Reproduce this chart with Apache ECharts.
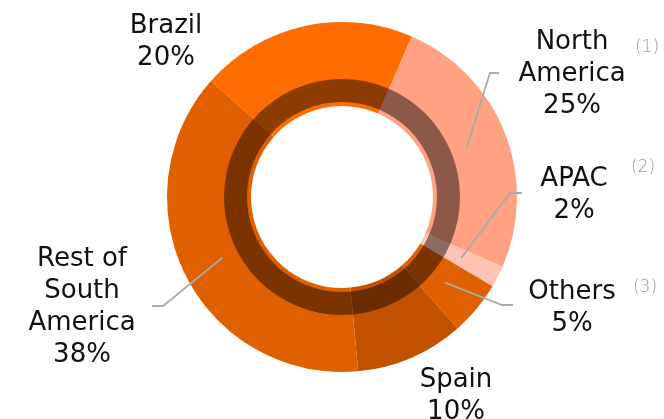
<!DOCTYPE html>
<html>
<head>
<meta charset="utf-8">
<script src="https://cdn.jsdelivr.net/npm/echarts@6/dist/echarts.min.js"></script>
<style>
  html, body { margin: 0; padding: 0; background: #fff; }
  #main { width: 664px; height: 419px; }
</style>
</head>
<body>
<div id="main"></div>
<script>
// data
const regions = ['Brazil', 'North America', 'APAC', 'Others', 'Spain', 'Rest of South America'];
const labelNames = ['Brazil', 'North\nAmerica', 'APAC', 'Others', 'Spain', 'Rest of\nSouth\nAmerica'];
const shares = [20, 25, 2, 5, 10, 38];
const colors = ['#FF6D00', '#FFA183', '#FFC3B3', '#E06000', '#C25100', '#E06000'];
const footnotes = ['', '(1)', '(2)', '(3)', '', ''];

// label placement (px): label centre, then the bend and end of the leader line
const labelPos = [
  { x: 166, y: 42 },
  { x: 572, y: 74, bend: [490, 73], end: [499, 73] },
  { x: 574, y: 195, bend: [510, 193], end: [522, 193] },
  { x: 572, y: 308, bend: [502, 305], end: [513, 305] },
  { x: 456, y: 396 },
  { x: 82, y: 307, bend: [163, 306], end: [152, 306] }
];
const notePos = [null, [647, 48], [643, 168], [645, 288], null, null];

const center = [342, 197];
const startAngle = 138.5;

const chart = echarts.init(document.getElementById('main'));

const pieData = regions.map((r, i) => ({
  name: r,
  value: shares[i],
  itemStyle: { color: colors[i] }
}));

const labelData = regions.map((r, i) => ({
  name: labelNames[i],
  value: shares[i],
  labelLine: { show: !!labelPos[i].bend }
}));

const notes = [];
footnotes.forEach((t, i) => {
  if (!t) return;
  notes.push({
    type: 'text',
    x: notePos[i][0],
    y: notePos[i][1],
    style: {
      text: t,
      fill: '#999999',
      fontFamily: 'DejaVu Sans',
      fontWeight: 300,
      fontSize: 17,
      align: 'center',
      verticalAlign: 'middle'
    }
  });
});

chart.setOption({
  backgroundColor: '#fff',
  animation: false,
  graphic: notes,
  series: [
    {
      type: 'pie',
      center: center,
      radius: [91, 175],
      startAngle: startAngle,
      silent: true,
      label: { show: false },
      labelLine: { show: false },
      itemStyle: { borderWidth: 0 },
      data: pieData
    },
    {
      // dark translucent ring over the donut
      type: 'pie',
      center: center,
      radius: [95, 118],
      silent: true,
      z: 3,
      label: { show: false },
      labelLine: { show: false },
      itemStyle: { color: 'rgba(0,0,0,0.45)', borderWidth: 0 },
      data: [1]
    },
    {
      // invisible pie only carrying labels, lines start mid-ring
      type: 'pie',
      center: center,
      radius: [91, 134],
      startAngle: startAngle,
      silent: true,
      z: 4,
      avoidLabelOverlap: false,
      itemStyle: { color: 'rgba(0,0,0,0)' },
      label: {
        show: true,
        formatter: p => p.name + '\n' + p.value + '%',
        fontFamily: 'DejaVu Sans',
        fontSize: 26,
        lineHeight: 32,
        color: '#111111',
        align: 'center'
      },
      labelLine: {
        show: true,
        smooth: false,
        lineStyle: { color: '#aaaaaa', width: 1.8 }
      },
      labelLayout: function (params) {
        const p = labelPos[params.dataIndex];
        const res = { x: p.x, y: p.y, align: 'center', verticalAlign: 'middle' };
        if (p.bend && params.labelLinePoints) {
          res.labelLinePoints = [params.labelLinePoints[0], p.bend, p.end];
        }
        return res;
      },
      data: labelData
    }
  ]
});
</script>
</body>
</html>
